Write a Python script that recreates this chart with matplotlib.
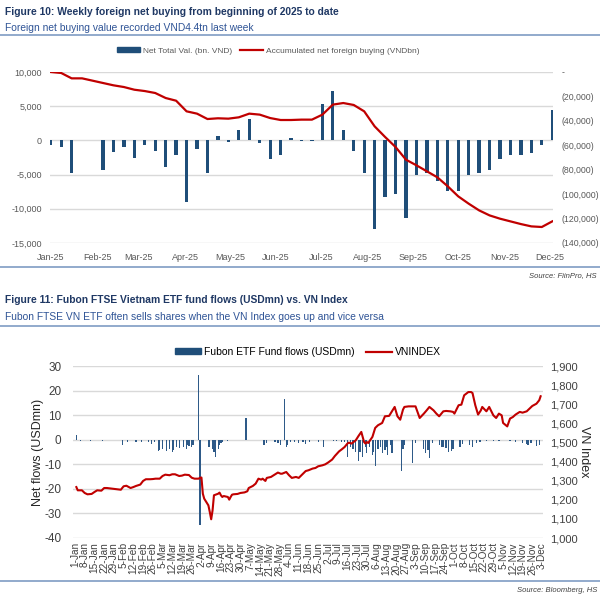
import numpy as np
import pandas as pd
import matplotlib
matplotlib.use("Agg")
import matplotlib.pyplot as plt
import matplotlib.dates as mdates
from matplotlib.ticker import FuncFormatter, MultipleLocator
from matplotlib.lines import Line2D
from matplotlib.patches import Patch
from datetime import datetime, timedelta

plt.rcParams['font.family'] = ['Liberation Sans', 'DejaVu Sans']
plt.rcParams['axes.unicode_minus'] = False

# ---- Figure 10 data: weekly foreign net buying (bn VND) ----
week_start = "2025-01-01"
net_val = [-700, -1000, -4700, 50, 0, -4300, -1700, -1000, -2500, -700,
           -1600, -3900, -2100, -9000, -1300, -4800, 700, -300, 1500, 3100,
           -400, -2700, -2100, 400, -100, -100, 5300, 7200, 1500, -1500,
           -4800, -12900, -8300, -7800, -11300, -5100, -4800, -5900, -7400, -7400,
           -5000, -4800, -4300, -2700, -2100, -2200, -1800, -600, 4500]
accum = [0, -800, -5200, -5200, -7100, -9000, -10900, -12300, -14500, -15600,
         -17200, -21300, -23500, -32200, -34100, -38500, -37900, -38200, -37100, -34100,
         -34900, -37700, -39300, -39300, -39000, -39000, -34900, -26700, -25400, -27000,
         -32200, -44500, -53200, -61400, -71800, -76400, -81300, -86200, -93600, -101800,
         -107800, -113300, -117400, -120100, -122300, -124500, -126400, -126900, -122300]

# ---- Figure 11 data: Fubon ETF daily flows (USDmn) and VNINDEX ----
flow_dates = ["01-02", "01-05", "01-12", "01-21", "02-04", "02-08", "02-14", "02-18",
              "02-23", "02-25", "02-27", "03-02", "03-03", "03-05", "03-08", "03-10",
              "03-12", "03-13", "03-15", "03-17", "03-20", "03-22", "03-23", "03-24",
              "03-26", "03-27", "03-31", "04-01", "04-07", "04-08", "04-10", "04-11",
              "04-12", "04-14", "04-15", "04-16", "04-17", "04-21", "05-04", "05-17",
              "05-19", "05-25", "05-27", "05-29", "06-01", "06-02", "06-03", "06-05",
              "06-08", "06-11", "06-14", "06-16", "06-19", "06-25", "06-29", "07-06",
              "07-08", "07-12", "07-14", "07-16", "07-18", "07-20", "07-22", "07-24",
              "07-25", "07-27", "07-29", "07-30", "08-01", "08-03", "08-04", "08-05",
              "08-07", "08-09", "08-10", "08-12", "08-13", "08-14", "08-16", "08-17",
              "08-24", "08-25", "08-26", "09-01", "09-03", "09-09", "09-10", "09-12",
              "09-13", "09-15", "09-20", "09-22", "09-23", "09-25", "09-27", "09-29",
              "09-30", "10-05", "10-07", "10-12", "10-14", "10-17", "10-19", "10-20",
              "10-24", "10-29", "11-02", "11-10", "11-14", "11-19", "11-22", "11-23",
              "11-25", "11-29", "12-01"]
flow_vals = [2.0, -0.4, -0.5, -0.5, -2.0, -1.0, -1.0, -0.8,
             -1.0, -1.5, -1.0, -4.5, -4.0, -3.7, -4.5, -3.7,
             -4.8, -4.0, -3.1, -3.4, -2.7, -3.7, -2.0, -2.5,
             -3.0, -2.0, 26.5, -34.7, -2.7, -3.0, -3.7, -4.8,
             -6.8, -3.7, -2.0, -1.4, -1.0, -0.5, 9.1, -2.0,
             -1.4, -0.7, -1.4, -2.0, 16.6, -3.1, -2.0, -1.0,
             -0.7, -1.4, -1.0, -1.8, -1.0, -1.0, -3.1, -0.5,
             -0.5, -1.0, -0.7, -6.8, -2.7, -3.7, -4.8, -8.8,
             -4.8, -6.8, -3.1, -5.4, -2.7, -6.1, -4.8, -10.5,
             -3.7, -3.1, -5.4, -4.0, -3.1, -6.1, -2.0, -5.4,
             -12.7, -3.7, -2.0, -9.5, -1.4, -3.7, -5.4, -4.0,
             -7.5, -1.4, -2.0, -3.1, -2.7, -3.4, -4.8, -4.5,
             -3.7, -3.1, -1.8, -2.0, -2.7, -1.4, -1.0, -0.7,
             -0.4, -0.4, -0.4, -0.4, -0.7, -1.1, -1.8, -2.0,
             -1.4, -2.3, -2.0]
vn_dates = ["01-02", "01-03", "01-06", "01-08", "01-10", "01-13", "01-15", "01-17",
            "01-20", "01-22", "01-24", "02-03", "02-05", "02-07", "02-10", "02-12",
            "02-14", "02-17", "02-19", "02-21", "02-24", "02-26", "02-28", "03-03",
            "03-05", "03-07", "03-10", "03-12", "03-14", "03-17", "03-19", "03-21",
            "03-24", "03-26", "03-28", "03-31", "04-01", "04-02", "04-03", "04-04",
            "04-07", "04-08", "04-09", "04-10", "04-11", "04-14", "04-15", "04-16",
            "04-17", "04-18", "04-21", "04-22", "04-23", "04-24", "04-25", "04-28",
            "04-30", "05-03", "05-05", "05-06", "05-09", "05-11", "05-13", "05-15",
            "05-16", "05-18", "05-19", "05-22", "05-24", "05-27", "05-29", "05-30",
            "06-02", "06-04", "06-06", "06-09", "06-11", "06-14", "06-16", "06-18",
            "06-21", "06-23", "06-25", "06-28", "06-30", "07-02", "07-05", "07-07",
            "07-10", "07-12", "07-14", "07-16", "07-17", "07-19", "07-22", "07-24",
            "07-26", "07-28", "07-29", "07-30", "07-31", "08-03", "08-05", "08-07",
            "08-10", "08-12", "08-15", "08-16", "08-19", "08-21", "08-23", "08-25",
            "08-26", "08-29", "08-31", "09-03", "09-06", "09-09", "09-11", "09-13",
            "09-16", "09-18", "09-20", "09-23", "09-25", "09-28", "09-30", "10-01",
            "10-04", "10-06", "10-08", "10-11", "10-13", "10-14", "10-16", "10-18",
            "10-20", "10-21", "10-24", "10-26", "10-29", "10-31", "11-02", "11-04",
            "11-05", "11-07", "11-08", "11-10", "11-12", "11-14", "11-17", "11-19",
            "11-22", "11-24", "11-26", "11-29", "12-01", "12-02"]
vn_vals = [1267, 1250, 1250, 1236, 1229, 1231, 1241, 1250,
           1248, 1262, 1262, 1253, 1271, 1274, 1262, 1267,
           1273, 1280, 1299, 1308, 1308, 1309, 1311, 1311,
           1325, 1332, 1329, 1334, 1334, 1325, 1327, 1332,
           1330, 1316, 1311, 1311, 1316, 1317, 1232, 1206,
           1171, 1136, 1098, 1145, 1224, 1232, 1238, 1224,
           1215, 1220, 1215, 1201, 1215, 1227, 1229, 1231,
           1236, 1239, 1245, 1262, 1273, 1285, 1311, 1306,
           1311, 1299, 1315, 1320, 1329, 1343, 1337, 1337,
           1346, 1329, 1315, 1320, 1315, 1337, 1351, 1355,
           1364, 1367, 1376, 1381, 1386, 1395, 1411, 1430,
           1454, 1465, 1477, 1495, 1500, 1495, 1512, 1535,
           1556, 1503, 1495, 1503, 1498, 1530, 1577, 1591,
           1603, 1638, 1640, 1652, 1687, 1638, 1620, 1673,
           1687, 1690, 1690, 1690, 1629, 1652, 1669, 1687,
           1669, 1652, 1638, 1664, 1666, 1664, 1661, 1652,
           1696, 1699, 1748, 1765, 1765, 1760, 1696, 1647,
           1669, 1687, 1664, 1687, 1643, 1629, 1652, 1643,
           1603, 1591, 1585, 1626, 1634, 1647, 1661, 1657,
           1664, 1678, 1692, 1704, 1722, 1743]

navy = "#1F3864"
sub_blue = "#2F5496"
rule_col = "#7F9CC4"
bar_blue = "#1F4E79"
red = "#C00000"
grid_col = "#D9D9D9"
tick_col = "#595959"

fig = plt.figure(figsize=(6, 6), dpi=100)

def fy(px):
    return 1 - px / 600.0

# ---------------- Figure 10 ----------------
fig.text(5 / 600, fy(12), "Figure 10: Weekly foreign net buying from beginning of 2025 to date",
         fontsize=7.4, fontweight="bold", color=navy, va="center")
fig.text(5 / 600, fy(28), "Foreign net buying value recorded VND4.4tn last week",
         fontsize=7.4, color=sub_blue, va="center")
fig.add_artist(Line2D([0, 1], [fy(35), fy(35)], color=rule_col, lw=1.2))

weeks = pd.date_range(week_start, periods=len(net_val), freq="7D")
ax1 = fig.add_axes([50 / 600, fy(243), 503 / 600, 171 / 600])
ax1.bar(weeks, net_val, width=2.2, color=bar_blue, zorder=3)
ax1.set_ylim(-15000, 10000)
ax1.yaxis.set_major_locator(MultipleLocator(5000))
ax1.yaxis.set_major_formatter(FuncFormatter(lambda v, p: f"{v:,.0f}"))
ax1.grid(axis="y", color=grid_col, lw=1, zorder=0)
ax1.set_xlim(weeks[0] - timedelta(hours=12), weeks[-1] + timedelta(hours=12))
ax1.xaxis.set_major_locator(mdates.MonthLocator())
ax1.xaxis.set_major_formatter(mdates.DateFormatter("%b-%y"))
ax1.tick_params(axis="both", length=0, labelsize=6.5, labelcolor=tick_col)
ax1.tick_params(axis="y", pad=6)
ax1.tick_params(axis="x", pad=7)
for s in ax1.spines.values():
    s.set_visible(False)

ax1r = ax1.twinx()
ax1r.plot(weeks, accum, color=red, lw=1.6, zorder=4)
ax1r.set_ylim(-140000, 0)
ax1r.yaxis.set_major_locator(MultipleLocator(20000))
ax1r.yaxis.set_major_formatter(FuncFormatter(
    lambda v, p: "-" if abs(v) < 1 else f"({abs(v):,.0f})"))
ax1r.tick_params(axis="y", length=0, labelsize=6.3, labelcolor=tick_col, pad=6)
for s in ax1r.spines.values():
    s.set_visible(False)

leg1 = fig.legend(handles=[Patch(color=bar_blue, label="Net Total Val. (bn. VND)"),
                           Line2D([], [], color=red, lw=1.6,
                                  label="Accumulated net foreign buying (VNDbn)")],
                  loc="center", bbox_to_anchor=(268 / 600, fy(51)), ncol=2,
                  frameon=False, fontsize=6, handlelength=2.8, handleheight=0.5,
                  columnspacing=1.0, handletextpad=0.3)
for t in leg1.get_texts():
    t.set_color(tick_col)

fig.add_artist(Line2D([0, 1], [fy(267), fy(267)], color=rule_col, lw=1.2))
fig.text(597 / 600, fy(276), "Source: FiinPro, HS", fontsize=5.5, style="italic",
         color="#404040", ha="right", va="center")

# ---------------- Figure 11 ----------------
fig.text(5 / 600, fy(300), "Figure 11: Fubon FTSE Vietnam ETF fund flows (USDmn) vs. VN Index",
         fontsize=7.4, fontweight="bold", color=navy, va="center")
fig.text(5 / 600, fy(317), "Fubon FTSE VN ETF often sells shares when the VN Index goes up and vice versa",
         fontsize=7.4, color=sub_blue, va="center")
fig.add_artist(Line2D([0, 1], [fy(326), fy(326)], color=rule_col, lw=1.2))

fd = pd.to_datetime(["2025-" + d for d in flow_dates])
vd = pd.to_datetime(["2025-" + d for d in vn_dates])

ax2 = fig.add_axes([72.7 / 600, fy(538), 470 / 600, 171.7 / 600])
ax2.bar(fd, flow_vals, width=0.9, color="#2E5A88", zorder=3)
ax2.set_ylim(-40, 30)
ax2.yaxis.set_major_locator(MultipleLocator(10))
ax2.grid(axis="y", color=grid_col, lw=1, zorder=0)
ax2.set_xlim(datetime(2024, 12, 30, 9), datetime(2025, 12, 3, 12))
wk = pd.date_range("2025-01-01", "2025-12-03", freq="7D")
ax2.set_xticks(wk)
ax2.set_xticklabels([f"{d.day}-{d.strftime('%b')}" for d in wk], rotation=90,
                    fontsize=7.2, color="#404040")
ax2.tick_params(axis="x", length=0, pad=3)
ax2.tick_params(axis="y", length=0, labelsize=8.5, labelcolor="#404040", pad=8)
ax2.set_ylabel("Net flows (USDmn)", fontsize=9, color="#262626", labelpad=0)
for s in ax2.spines.values():
    s.set_visible(False)

ax2r = ax2.twinx()
ax2r.plot(vd, vn_vals, color=red, lw=1.5, zorder=4)
ax2r.set_ylim(1000, 1900)
ax2r.yaxis.set_major_locator(MultipleLocator(100))
ax2r.yaxis.set_major_formatter(FuncFormatter(lambda v, p: f"{v:,.0f}"))
ax2r.tick_params(axis="y", length=0, labelsize=8, labelcolor="#404040", pad=5)
ax2r.set_ylabel("VN Index", fontsize=9, color="#262626", rotation=270, labelpad=9)
for s in ax2r.spines.values():
    s.set_visible(False)

fig.legend(handles=[Patch(color=bar_blue, label="Fubon ETF Fund flows (USDmn)"),
                    Line2D([], [], color=red, lw=1.6, label="VNINDEX")],
           loc="center", bbox_to_anchor=(308 / 600, fy(352)), ncol=2,
           frameon=False, fontsize=7.5, handlelength=2.5, handleheight=0.45,
           columnspacing=1.0, handletextpad=0.3)

fig.add_artist(Line2D([0, 1], [fy(581), fy(581)], color=rule_col, lw=1.2))
fig.text(597 / 600, fy(590), "Source: Bloomberg, HS", fontsize=5.5, style="italic",
         color="#404040", ha="right", va="center")

fig.savefig("out.png", dpi=100)
